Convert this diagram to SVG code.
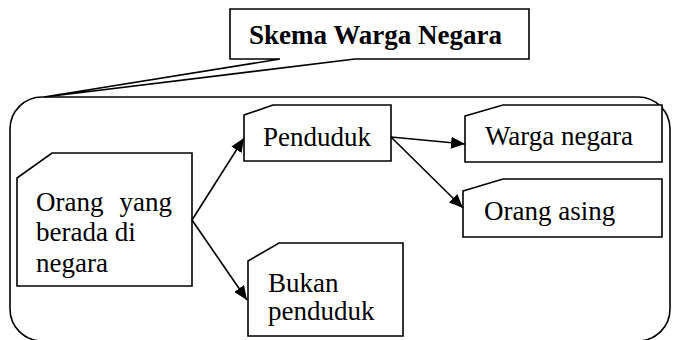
<svg xmlns="http://www.w3.org/2000/svg" width="676" height="340" viewBox="0 0 676 340">
<style>
.box{fill:#fff;stroke:#000;stroke-width:1.6}
text{font-family:'Liberation Serif','Times New Roman',Times,serif;font-size:27px;fill:#000}
.tb{font-weight:bold}
.conn{stroke:#000;stroke-width:1.6;fill:none;marker-end:url(#arr)}
</style>
<defs>
<marker id="arr" markerUnits="userSpaceOnUse" markerWidth="16" markerHeight="12" refX="14" refY="6" orient="auto">
<path d="M0,0 L14,6 L0,12 Z" fill="#000"/>
</marker>
</defs>
<rect width="676" height="340" fill="#fff"/>
<g id="frame">
<rect class="box" x="10" y="97" width="660" height="244" rx="32" ry="32"/>
</g>
<g id="title">
<path class="box" d="M280,59 L230,59 L230,9 L529,9 L529,59 L355,59 L44,97 Z"/>
<text class="tb" x="249" y="44" font-family="Liberation Serif, serif">Skema Warga Negara</text>
</g>
<g id="orang">
<path class="box" d="M17,178 L52,153 L192,153 L192,286 L17,286 Z"/>
<text x="36" y="211">Orang</text>
<text x="172" y="211" text-anchor="end">yang</text>
<text x="36" y="241">berada di</text>
<text x="36" y="272">negara</text>
</g>
<g id="penduduk">
<path class="box" d="M244,115 L273,105 L391,105 L391,161 L244,161 Z"/>
<text x="263" y="146">Penduduk</text>
</g>
<g id="bukan">
<path class="box" d="M248,261 L279,243 L403,243 L403,336 L248,336 Z"/>
<text x="268" y="292">Bukan</text>
<text x="268" y="320">penduduk</text>
</g>
<g id="warga">
<path class="box" d="M465,116 L503,105 L662,105 L662,162 L465,162 Z"/>
<text x="485" y="145">Warga negara</text>
</g>
<g id="asing">
<path class="box" d="M463,191 L503,179 L662,179 L662,237 L463,237 Z"/>
<text x="484" y="220">Orang asing</text>
</g>
<g id="connectors">
<line class="conn" x1="192" y1="220" x2="244" y2="138"/>
<line class="conn" x1="192" y1="220" x2="247" y2="300"/>
<line class="conn" x1="391" y1="137" x2="465" y2="144"/>
<line class="conn" x1="391" y1="137" x2="463" y2="208"/>
</g>
</svg>
